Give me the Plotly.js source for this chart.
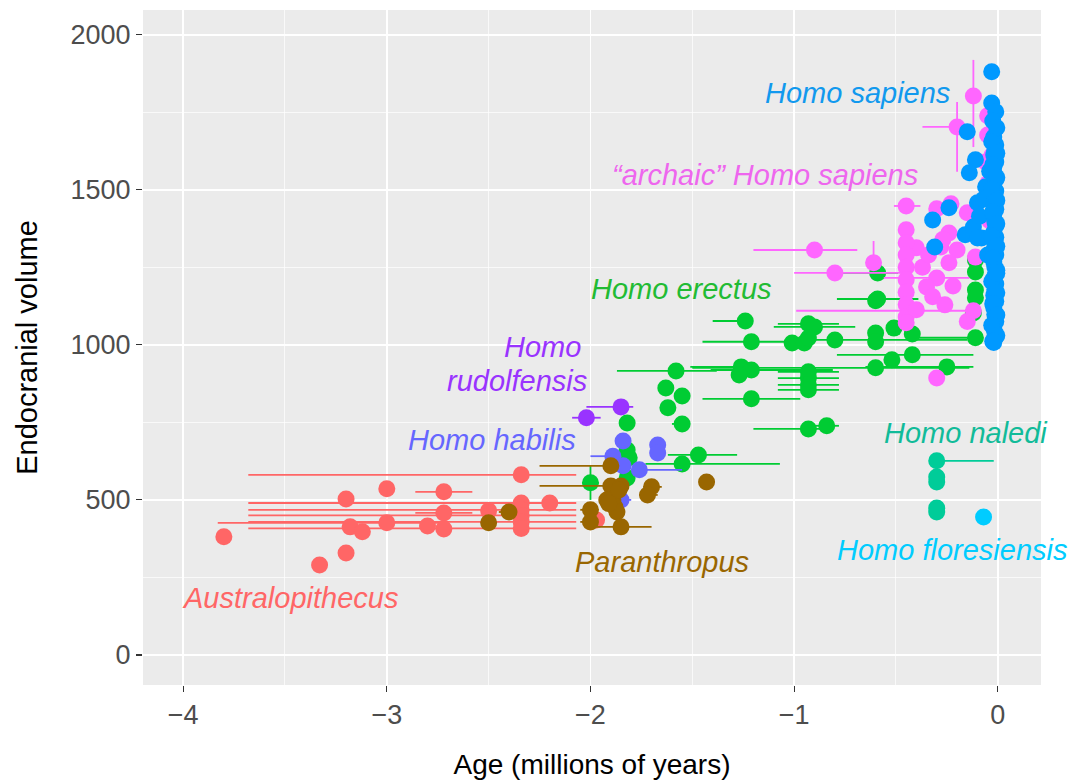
<!DOCTYPE html>
<html>
<head>
<meta charset="utf-8">
<script src="https://cdn.plot.ly/plotly-3.0.1.min.js"></script>
<style>html,body{margin:0;padding:0;background:#fff;}#chart{width:1076px;height:784px;}</style>
</head>
<body>
<div id="chart"></div>
<script>
// ---------------- DATA (age in millions of years, endocranial volume) ----------------
const austAge   = [-3.80,-3.33,-3.20,-3.20,-3.18,-3.12,-3.00,-3.00,-2.80,-2.72,-2.72,-2.72,-2.50,-2.34,-2.34,-2.34,-2.34,-2.34,-2.34,-2.20,-1.97];
const austVol   = [381,290,503,329,413,397,536,426,416,526,458,406,465,581,490,468,450,429,408,490,435];
const austMinus = [0,0,0,0,0,0,0,0.83,0,0.14,0.14,0,0,1.34,1.34,1.34,1.34,1.34,1.34,0,0];
const austPlus  = [0,0,0,0,0,0,0,0.30,0,0.14,0.14,0,0,0.27,0.27,0.27,0.27,0.27,0.27,0,0];

const paraAge   = [-2.50,-2.40,-2.00,-2.00,-1.90,-1.90,-1.85,-1.89,-1.89,-1.88,-1.87,-1.85,-1.70,-1.72,-1.43,-1.92,-1.86,-1.91];
const paraVol   = [426,461,468,429,610,545,545,522,500,477,461,413,542,516,558,500,532,488];
const paraMinus = [0,0.05,0.05,0.05,0.35,0.35,0,0,0,0,0,0.12,0.04,0.04,0,0,0,0];
const paraPlus  = [0,0,0,0,0,0,0,0,0,0,0,0.15,0.05,0.05,0,0,0,0];

const habAge    = [-1.84,-1.89,-1.84,-1.76,-1.67,-1.67,-1.85];
const habVol    = [690,641,610,597,677,651,500];
const habMinus  = [0,0.11,0,0,0,0,0.05];
const habPlus   = [0,0,0,0.21,0,0,0.05];

const rudAge    = [-1.85,-2.02];
const rudVol    = [800,765];
const rudMinus  = [0.17,0.07];
const rudPlus   = [0.06,0.07];

const ereAge    = [-2.00,-1.82,-1.82,-1.81,-1.82,-1.63,-1.55,-1.62,-1.55,-1.58,-1.55,-1.47,-1.24,-1.21,-1.26,-1.21,-1.27,-1.21,-1.01,-0.95,-0.93,-0.90,-0.93,-0.80,-0.93,-0.93,-0.93,-0.93,-0.93,-0.84,-0.60,-0.60,-0.60,-0.59,-0.59,-0.60,-0.52,-0.51,-0.42,-0.42,-0.25,-0.11,-0.11,-0.11,-0.11,-0.11,-0.12];
const ereVol    = [555,748,661,636,571,861,835,797,745,916,616,645,1077,1010,929,919,903,826,1006,1006,1068,1058,1022,1016,913,893,871,855,729,739,1038,1010,1142,1232,1148,926,952,1054,1035,968,929,1023,1177,1152,1235,1274,1103];
const ereMinus  = [0.04,0,0,0,0,0,0,0,0.05,0.29,0.18,0.15,0.16,0.24,0.25,0.20,0,0.24,0,0,0.15,0.20,0,0.20,0.15,0.15,0.15,0.15,0.27,0.06,0,0,0,0.17,0.20,0.90,0,0,0,0.37,0.40,0.32,0,0,0,0,0];
const erePlus   = [0.04,0,0,0,0,0,0.03,0,0,0.20,0.48,0.19,0,0.20,0,0.40,0,0.24,0,0,0.15,0.20,0,0.65,0.15,0.15,0.15,0.15,0.10,0.06,0,0,0,0.10,0.20,0.46,0,0,0,0.30,0.13,0,0,0,0,0,0];
const ereVolErr = [55,0,0,0,0,0,0,0,0,0,0,0,0,0,0,0,0,0,0,0,0,0,0,0,0,0,0,0,0,0,0,0,0,0,0,0,0,0,0,0,0,0,0,0,0,0,0];

const nalAge    = [-0.30,-0.30,-0.30,-0.30,-0.30];
const nalVol    = [626,574,558,474,461];
const nalPlus   = [0.28,0.03,0.03,0.03,0];

const floAge    = [-0.07];
const floVol    = [445];

const arcAge    = [-0.90,-0.80,-0.61,-0.12,-0.20,-0.45,-0.30,-0.23,-0.15,-0.24,-0.28,-0.20,-0.40,-0.45,-0.45,-0.45,-0.45,-0.45,-0.45,-0.45,-0.45,-0.30,-0.35,-0.32,-0.26,-0.40,-0.45,-0.15,-0.12,-0.30,-0.05,-0.05,-0.06,-0.24,-0.11,-0.05,-0.04,-0.03,-0.37,-0.22,-0.27,-0.34];
const arcVol    = [1306,1232,1265,1803,1703,1448,1439,1455,1426,1361,1316,1306,1313,1371,1329,1290,1250,1210,1170,1130,1090,1216,1187,1155,1129,1113,1071,1075,1110,893,1739,1677,1590,1265,1283,1520,1400,1610,1250,1190,1340,1290];
const arcMinus  = [0.30,0.20,0,0,0.17,0.06,0,0,0,0,0,0,0,0,0,0,0,0,0,0,0,0.26,0,0,0,0,0,0,0.87,0,0,0,0,0,0,0,0,0,0,0,0,0];
const arcPlus   = [0.21,0.35,0,0,0,0.07,0,0,0,0,0,0,0,0,0,0,0,0,0,0,0,0.16,0,0,0,0,0,0,0,0,0,0,0,0,0,0,0,0,0,0,0,0];
const arcVolUp  = [0,0,70,116,80,0,0,0,0,0,0,0,0,0,0,0,0,0,0,0,0,0,0,0,0,0,0,0,0,0,0,0,0,0,0,0,0,0,0,0,0,0];
const arcVolDn  = [0,0,0,165,145,0,0,0,0,0,0,0,0,0,0,0,0,0,0,0,0,0,0,0,0,0,0,0,0,0,0,0,0,0,0,0,0,0,0,0,0,0];

const sapAge    = [-0.03,-0.03,-0.01,-0.15,-0.11,-0.14,-0.10,-0.24,-0.32,-0.16,-0.31,-0.12,-0.08,-0.05,-0.06,-0.10,-0.04,-0.07,-0.09,
                   -0.02,-0.01,-0.015,-0.02,-0.01,-0.02,-0.015,-0.01,-0.02,-0.01,-0.015,-0.02,-0.01,-0.02,-0.015,-0.01,-0.02,-0.01,-0.015,-0.02,-0.01,-0.02,-0.015,-0.01,-0.02,-0.01,-0.015,-0.02,-0.01,-0.02,-0.015,-0.01,-0.02,-0.015,-0.01,-0.02,
                   -0.025,-0.005,-0.03,-0.005,-0.025,-0.005,-0.03,-0.005,-0.025,-0.005,-0.03,-0.005,-0.025,-0.005,-0.03,-0.005,-0.025,-0.005,-0.03,-0.005,-0.025,-0.005];
const sapVol    = [1881,1780,1752,1687,1597,1555,1458,1442,1403,1355,1316,1380,1345,1290,1510,1345,1560,1470,1415,
                   1670,1645,1628,1612,1590,1572,1549,1533,1510,1496,1478,1455,1437,1420,1398,1384,1362,1347,1326,1305,1290,1268,1252,1233,1215,1196,1178,1160,1141,1120,1098,1075,1058,1041,1026,1008,
                   1722,1700,1655,1618,1581,1540,1502,1466,1429,1391,1352,1318,1279,1241,1204,1168,1133,1096,1063,1030,1012,1231];

// ---------------- TRACES ----------------
function group(name, x, y, color, minus, plus, yUp, yDn) {
  const t = {
    type: 'scatter', mode: 'markers', name: name, x: x, y: y,
    marker: {color: color, size: 17, line: {width: 0}},
    hoverinfo: 'skip'
  };
  if (minus || plus) {
    t.error_x = {type: 'data', symmetric: false,
      array: plus || x.map(() => 0), arrayminus: minus || x.map(() => 0),
      color: color, thickness: 1.8, width: 0};
  }
  if (yUp) {
    t.error_y = {type: 'data', symmetric: false, array: yUp, arrayminus: yDn || yUp,
      color: color, thickness: 1.8, width: 0};
  }
  return t;
}

const cAust = '#FF6666', cPara = '#996600', cHab = '#6666FF', cRud = '#9933FF',
      cEre = '#00CC33', cNal = '#00CC99', cFlo = '#00CCFF', cArc = '#FF66FF', cSap = '#0099FF';

const traces = [
  group('Australopithecus', austAge, austVol, cAust, austMinus, austPlus),
  group('Homo erectus', ereAge, ereVol, cEre, ereMinus, erePlus, ereVolErr, ereVolErr),
  group('Homo habilis', habAge, habVol, cHab, habMinus, habPlus),
  group('Homo rudolfensis', rudAge, rudVol, cRud, rudMinus, rudPlus),
  group('Paranthropus', paraAge, paraVol, cPara, paraMinus, paraPlus),
  group('Homo naledi', nalAge, nalVol, cNal, null, nalPlus),
  group('Homo floresiensis', floAge, floVol, cFlo),
  group('archaic Homo sapiens', arcAge, arcVol, cArc, arcMinus, arcPlus, arcVolUp, arcVolDn),
  group('Homo sapiens', sapAge, sapVol, cSap)
];

function label(text, x, y, color) {
  return {text: '<i>' + text + '</i>', x: x, y: y, xref: 'x', yref: 'y', showarrow: false,
    xanchor: 'center', yanchor: 'middle',
    font: {family: 'Liberation Sans, Arial, sans-serif', size: 29, color: color}};
}

const layout = {
  width: 1076, height: 784,
  margin: {l: 143, r: 35, t: 10, b: 99},
  paper_bgcolor: '#ffffff', plot_bgcolor: '#EBEBEB',
  showlegend: false,
  font: {family: 'Liberation Sans, Arial, sans-serif'},
  xaxis: {
    range: [-4.197, 0.212], tick0: 0, dtick: 1,
    showgrid: true, gridcolor: '#ffffff', gridwidth: 1.5,
    minor: {dtick: 0.5, showgrid: true, gridcolor: '#ffffff', gridwidth: 0.7},
    zeroline: false, showline: false,
    ticks: 'outside', ticklen: 6, tickwidth: 1.2, tickcolor: '#333333',
    tickfont: {size: 27, color: '#4D4D4D'},
    title: {text: 'Age (millions of years)', standoff: 24,
      font: {size: 28, color: '#000000'}}
  },
  yaxis: {
    range: [-97, 2080], tick0: 0, dtick: 500,
    showgrid: true, gridcolor: '#ffffff', gridwidth: 1.5,
    minor: {dtick: 250, showgrid: true, gridcolor: '#ffffff', gridwidth: 0.7},
    zeroline: false, showline: false,
    ticks: 'outside', ticklen: 6, tickwidth: 1.2, tickcolor: '#333333',
    tickfont: {size: 27, color: '#4D4D4D'},
    title: {text: 'Endocranial volume', standoff: 24,
      font: {size: 29, color: '#000000'}}
  },
  annotations: [
    label('Homo sapiens', -0.689, 1813, '#1199EE'),
    label('\u201Carchaic\u201D Homo sapiens', -1.142, 1548, '#EE66EE'),
    label('Homo erectus', -1.555, 1181, '#22BB33'),
    label('Homo', -2.234, 994, '#9933FF'),
    label('rudolfensis', -2.362, 884, '#9933FF'),
    label('Homo habilis', -2.485, 694, '#6666FF'),
    label('Homo naledi', -0.157, 716, '#11BB99'),
    label('Homo floresiensis', -0.226, 339, '#00CCFF'),
    label('Paranthropus', -1.649, 300, '#996600'),
    label('Australopithecus', -3.474, 184, '#FF6666')
  ]
};

Plotly.newPlot('chart', traces, layout, {displayModeBar: false, staticPlot: true});
</script>
</body>
</html>
